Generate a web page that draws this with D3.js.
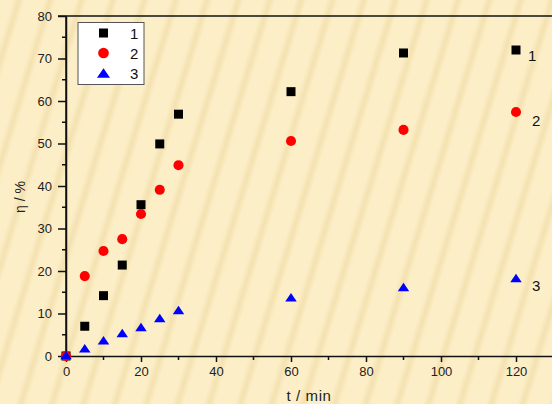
<!DOCTYPE html>
<html><head><meta charset="utf-8">
<script src="https://cdn.jsdelivr.net/npm/d3@7"></script>
<style>html,body{margin:0;padding:0;background:#fbedc4;}svg{display:block;}</style>
</head><body>
<script>
const times = [0, 5, 10, 15, 20, 25, 30, 60, 90, 120];
const series1 = [0, 7.0, 14.2, 21.4, 35.6, 49.9, 56.9, 62.2, 71.3, 72.0];
const series2 = [0, 18.8, 24.7, 27.5, 33.4, 39.1, 44.9, 50.6, 53.2, 57.4];
const series3 = [0, 1.6, 3.5, 5.2, 6.6, 8.7, 10.6, 13.6, 16.0, 18.1];
const seriesNames = ["1", "2", "3"];
const xTicks = [0, 20, 40, 60, 80, 100, 120];
const yTicks = [0, 10, 20, 30, 40, 50, 60, 70, 80];

const W = 552, H = 404;
const svg = d3.select("body").append("svg").attr("width", W).attr("height", H);
const defs = svg.append("defs");
const grad = defs.append("linearGradient").attr("id","sg").attr("x1","0").attr("x2","1").attr("y1","0").attr("y2","0");
grad.append("stop").attr("offset","0%").attr("stop-color","#fcefc8");
grad.append("stop").attr("offset","40%").attr("stop-color","#fcefc8");
grad.append("stop").attr("offset","60%").attr("stop-color","#f4e1b0");
grad.append("stop").attr("offset","80%").attr("stop-color","#fcefc8");
grad.append("stop").attr("offset","100%").attr("stop-color","#fcefc8");
const pat = defs.append("pattern").attr("id","bgp").attr("patternUnits","userSpaceOnUse")
  .attr("width",30).attr("height",40).attr("patternTransform","rotate(17)");
pat.append("rect").attr("width",30).attr("height",40).attr("fill","url(#sg)");
svg.append("rect").attr("width",W).attr("height",H).attr("fill","url(#bgp)");

const x = d3.scaleLinear().domain([0, 130]).range([66, 66 + 130*3.75]);
const y = d3.scaleLinear().domain([0, 80]).range([356, 16]);
const font = "Liberation Sans, Arial, sans-serif";

// minor ticks
const xMinor = d3.range(10, 130, 20);
const yMinor = d3.range(5, 80, 10);
svg.append("g").selectAll("line").data(xMinor).join("line")
  .attr("x1", d=>x(d)).attr("x2", d=>x(d)).attr("y1",356).attr("y2",360)
  .attr("stroke","#111").attr("stroke-width",1.5);
svg.append("g").selectAll("line").data(yMinor).join("line")
  .attr("y1", d=>y(d)).attr("y2", d=>y(d)).attr("x1",66).attr("x2",62)
  .attr("stroke","#111").attr("stroke-width",1.5);

const xAxis = svg.append("g").attr("transform","translate(0,356)")
  .call(d3.axisBottom(x).tickValues(xTicks).tickSize(6).tickSizeOuter(0).tickPadding(5));
const yAxis = svg.append("g").attr("transform","translate(66,0)")
  .call(d3.axisLeft(y).tickValues(yTicks).tickSize(8).tickSizeOuter(0).tickPadding(6));
[xAxis, yAxis].forEach(a => {
  a.select(".domain").attr("stroke","#111").attr("stroke-width",1.5);
  a.selectAll(".tick line").attr("stroke","#111").attr("stroke-width",1.5);
  a.selectAll("text").attr("font-family",font).attr("font-size",13).attr("fill","#222");
});
svg.append("line").attr("x1",58).attr("x2",W).attr("y1",16).attr("y2",16).attr("stroke","#111").attr("stroke-width",1.5);
svg.append("line").attr("x1",66).attr("x2",66).attr("y1",16).attr("y2",356).attr("stroke","#111").attr("stroke-width",1.5);

svg.append("text").attr("x", 309).attr("y", 401).attr("text-anchor","middle")
  .attr("font-family",font).attr("font-size",15).attr("letter-spacing","0.6px").attr("fill","#222").text("t / min");
svg.append("text").attr("transform","translate(25,197) rotate(-90)").attr("text-anchor","middle")
  .attr("font-family",font).attr("font-size",14).attr("fill","#222").text("η / %");

const data = [series1, series2, series3];
const colors = ["#000000", "#ff0000", "#0000ff"];
const tri = (w, h) => `M${-w/2},${h/2}L${w/2},${h/2}L0,${-h/2}Z`;
const symData = [d3.symbol().type(d3.symbolSquare).size(81)(), d3.symbol().type(d3.symbolCircle).size(80)(), tri(11.5, 8.5)];
const symLeg = [d3.symbol().type(d3.symbolSquare).size(81)(), d3.symbol().type(d3.symbolCircle).size(90)(), tri(13, 9.5)];

data.forEach((s, i) => {
  svg.append("g").selectAll("path").data(times.map((t, j) => [t, s[j]])).join("path")
    .attr("transform", d => `translate(${x(d[0])},${y(d[1]) - (i===2 ? 1 : 0)})`)
    .attr("d", symData[i]).attr("fill", colors[i]);
});

// end labels
const endOff = [[12, 11], [16, 14], [16, 12]];
data.forEach((s, i) => {
  svg.append("text").attr("x", x(times[times.length-1]) + endOff[i][0])
    .attr("y", y(s[s.length-1]) + endOff[i][1])
    .attr("font-family",font).attr("font-size",15).attr("fill","#111").text(seriesNames[i]);
});

// legend
const lg = svg.append("g");
lg.append("rect").attr("x",78).attr("y",22.5).attr("width",66).attr("height",62)
  .attr("fill","#ffffff").attr("stroke","#555").attr("stroke-width",1);
seriesNames.forEach((n, i) => {
  const yy = 33 + i*20;
  lg.append("path").attr("transform",`translate(103.5,${yy})`).attr("d", symLeg[i]).attr("fill", colors[i]);
  lg.append("text").attr("x",130).attr("y",yy+6).attr("font-family",font).attr("font-size",15).attr("fill","#111").text(n);
});
</script>
</body></html>
